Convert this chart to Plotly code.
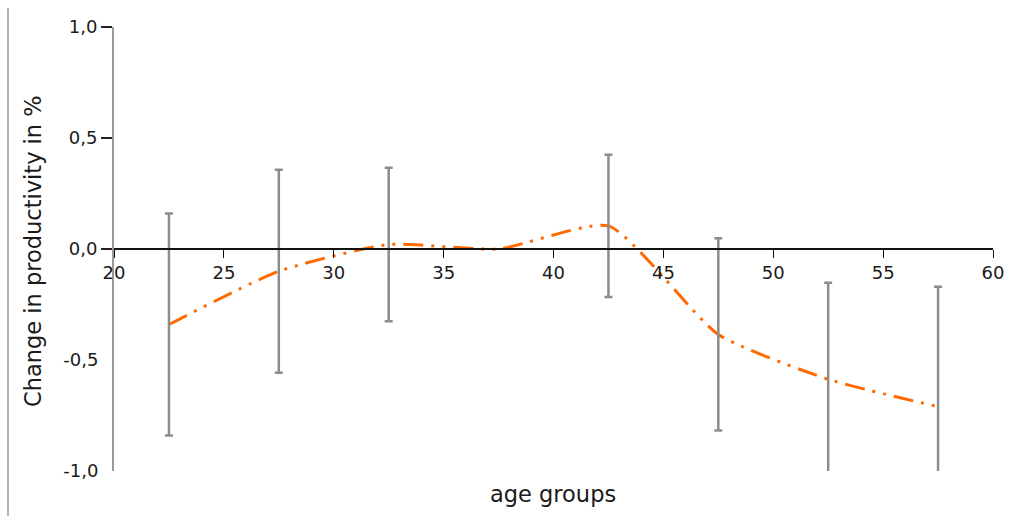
import numpy as np
import plotly.graph_objects as go

# Age group midpoints and estimated productivity change (%)
age_groups = [22.5, 27.5, 32.5, 37.5, 42.5, 47.5, 52.5, 57.5]
productivity_change = [-0.34, -0.10, 0.02, 0.0, 0.104, -0.385, -0.587, -0.71]
# Half-width of the confidence interval (37.5 is the reference group, no interval)
ci_halfwidth = [0.50, 0.457, 0.346, np.nan, 0.32, 0.433, 0.435, 0.54]

x_ticks = [20, 25, 30, 35, 40, 45, 50, 55, 60]
y_ticks_pos = [0.0, 0.5, 1.0]
y_ticks_neg = [-1.0, -0.5]


def comma_label(v):
    return f"{v:.1f}".replace(".", ",")


FONT = "DejaVu Sans"
W, H = 1010, 516
M = dict(l=114, r=17, t=27, b=45)

fig = go.Figure()

# Smoothed dash-dot-dot estimate line
fig.add_trace(go.Scatter(
    x=age_groups, y=productivity_change,
    mode="lines",
    line=dict(color="#ff6a00", width=3, shape="spline", smoothing=0.55,
              dash="20px,8px,3px,8px,3px,8px"),
    hoverinfo="skip", showlegend=False,
))

# Confidence intervals as error bars
ex = [a for a, e in zip(age_groups, ci_halfwidth) if not np.isnan(e)]
ey = [v for v, e in zip(productivity_change, ci_halfwidth) if not np.isnan(e)]
ee = [e for e in ci_halfwidth if not np.isnan(e)]
fig.add_trace(go.Scatter(
    x=ex, y=ey, mode="markers",
    marker=dict(size=1, color="rgba(0,0,0,0)"),
    error_y=dict(type="data", array=ee, symmetric=True,
                 color="#8c8c8c", thickness=2.5, width=4),
    hoverinfo="skip", showlegend=False,
))

# Dummy trace so the secondary y axis renders its labels
fig.add_trace(go.Scatter(x=[None], y=[None], yaxis="y2", showlegend=False,
                         hoverinfo="skip"))

TICKFONT = dict(family=FONT, size=18, color="#1a1a1a")

fig.update_layout(
    width=W, height=H,
    margin=M,
    paper_bgcolor="white", plot_bgcolor="white",
    font=dict(family=FONT, size=18, color="#1a1a1a"),
    xaxis=dict(
        range=[20, 60], tickvals=x_ticks, ticktext=[str(v) for v in x_ticks],
        anchor="free", position=0.5, automargin=False,
        showline=True, linecolor="#111111", linewidth=1.5,
        ticks="outside", ticklen=8, tickcolor="#111111", tickwidth=1,
        showgrid=False, zeroline=False,
        tickfont=TICKFONT,
    ),
    yaxis=dict(
        range=[-1, 1], domain=[0, 1], automargin=False,
        tickvals=y_ticks_pos, ticktext=[comma_label(v) for v in y_ticks_pos],
        showline=True, linecolor="#9a9a9a", linewidth=2,
        ticks="outside", ticklen=11, tickcolor="#222222", tickwidth=1.5,
        showgrid=False, zeroline=False,
        tickfont=TICKFONT,
    ),
    yaxis2=dict(
        range=[-1, 1], overlaying="y", side="left", anchor="x", automargin=False,
        tickvals=y_ticks_neg, ticktext=[comma_label(v) for v in y_ticks_neg],
        showline=False, ticks="outside", ticklen=11, tickcolor="rgba(0,0,0,0)",
        showgrid=False, zeroline=False,
        tickfont=TICKFONT,
    ),
)

pw = W - M["l"] - M["r"]
ph = H - M["t"] - M["b"]


def px_x(p):
    return (p - M["l"]) / pw


def px_y(p):
    return (H - M["b"] - p) / ph


fig.add_annotation(
    text="Change in productivity in %", textangle=-90,
    xref="paper", yref="paper", x=px_x(33), y=px_y(251),
    xanchor="center", yanchor="middle", showarrow=False,
    font=dict(family=FONT, size=22.5, color="#1a1a1a"),
)
fig.add_annotation(
    text="age groups",
    xref="paper", yref="paper", x=px_x(553), y=px_y(494),
    xanchor="center", yanchor="middle", showarrow=False,
    font=dict(family=FONT, size=22.5, color="#1a1a1a"),
)

# Left frame rule
fig.add_shape(type="line", xref="paper", yref="paper",
              x0=px_x(8), x1=px_x(8), y0=px_y(8), y1=px_y(516),
              line=dict(color="#9a9a9a", width=1.5))

fig.write_html("out.html")
